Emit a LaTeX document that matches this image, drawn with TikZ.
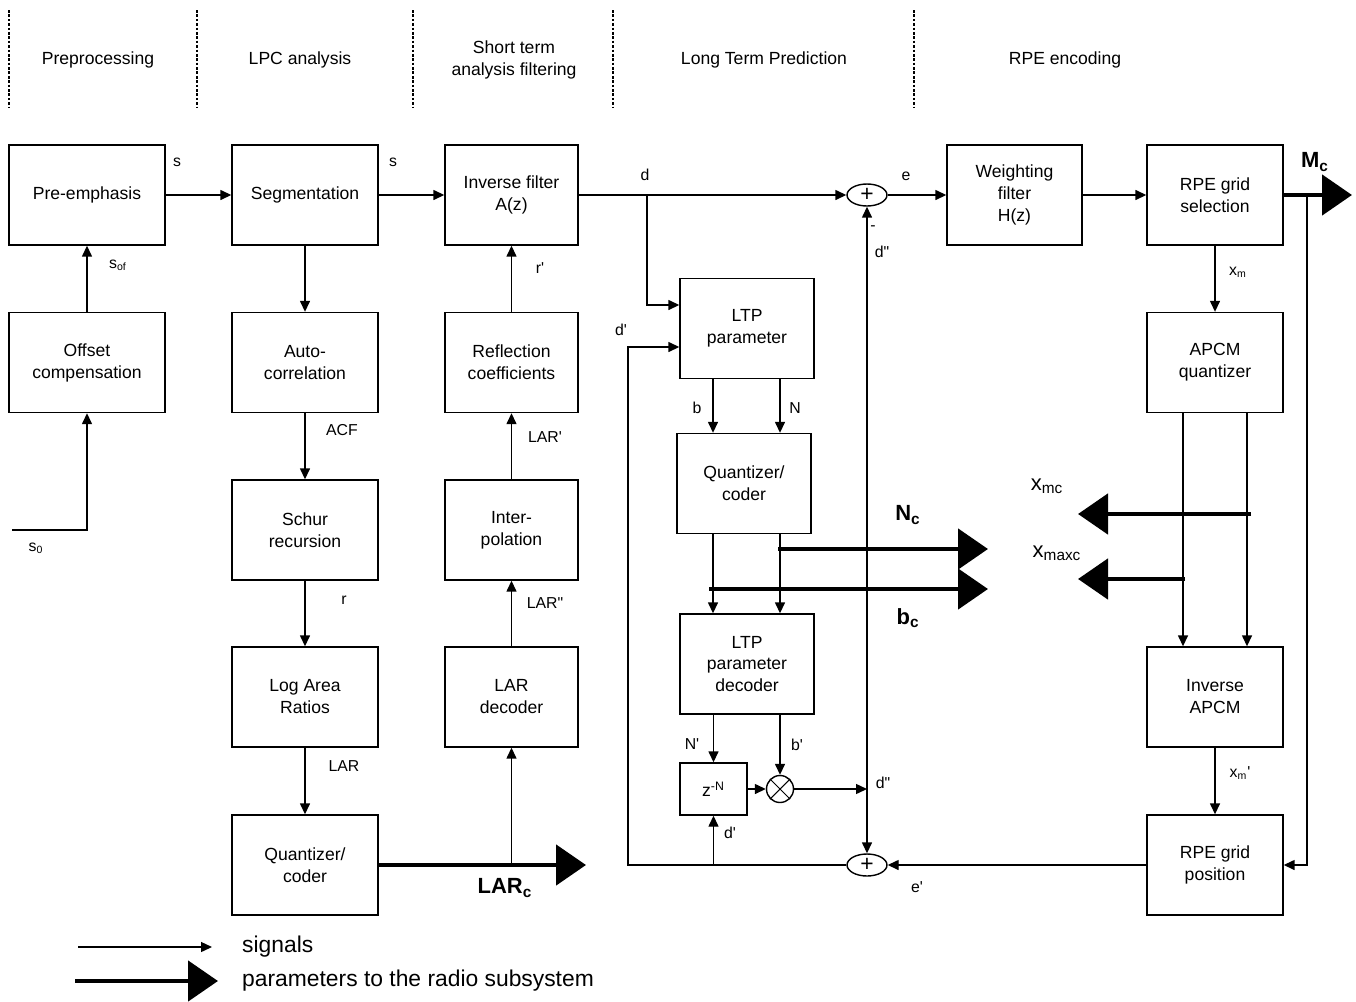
\documentclass[tikz,border=0pt]{standalone}
\usepackage{fontspec}
\setmainfont{Liberation Sans}
\usetikzlibrary{arrows.meta,positioning,calc,shapes.geometric}

\tikzset{
  block/.style={draw, rectangle, line width=0.8pt, minimum height=2cm, align=center,
    font=\fontsize{10}{12.5}\selectfont},
  sig/.style={line width=0.8pt, -{Triangle[length=0.22cm,width=0.2cm]}},
  param/.style={line width=2.8pt, -{Triangle[length=0.6cm,width=0.8cm]}},
  lbl/.style={font=\fontsize{9}{11}\selectfont, inner sep=1pt},
  big/.style={font=\fontsize{12.5}{14}\selectfont\bfseries, inner sep=1pt},
  head/.style={font=\fontsize{10}{13}\selectfont, align=center},
  summ/.style={draw, ellipse, line width=0.8pt, minimum width=0.8cm, minimum height=0.44cm, inner sep=0pt,
    font=\fontsize{13}{13}\selectfont}
}

\begin{document}
\begin{tikzpicture}[x=0.02cm, y=-0.02cm]
        \useasboundingbox (0,0) rectangle (1356,1001);

        % stage headers
        \foreach \x in {9,197,413,613,914}
            \draw[line width=0.8pt, dash pattern=on 1.5pt off 1pt] (\x,10) -- (\x,108);
        \node[head] (h1) at (98,60) {Preprocessing};
        \node[head] (h2) at (300,60) {LPC analysis};
        \node[head] (h3) at (514,60) {Short term\\analysis filtering};
        \node[head] (h4) at (764,60) {Long Term Prediction};
        \node[head] (h5) at (1065,60) {RPE encoding};

        % blocks
        \node[block, minimum width=3.12cm] (pre) at (87,195) {Pre-emphasis};
        \node[block, minimum width=3.12cm] (ofs) at (87,362.5) {Offset\\compensation};
        \node[block, minimum width=2.92cm] (seg) at (305,195) {Segmentation};
        \node[block, minimum width=2.92cm] (auto) at (305,362.5) {Auto-\\correlation};
        \node[block, minimum width=2.92cm] (schur) at (305,530) {Schur\\recursion};
        \node[block, minimum width=2.92cm] (lar) at (305,697) {Log Area\\Ratios};
        \node[block, minimum width=2.92cm] (lq) at (305,865) {Quantizer/\\coder};
        \node[block, minimum width=2.66cm] (inv) at (511.5,195) {Inverse filter\\A(z)};
        \node[block, minimum width=2.66cm] (refl) at (511.5,362.5) {Reflection\\coefficients};
        \node[block, minimum width=2.66cm] (intp) at (511.5,530) {Inter-\\polation};
        \node[block, minimum width=2.66cm] (ldec) at (511.5,697) {LAR\\decoder};
        \node[block, minimum width=2.68cm] (ltp) at (747,328.5) {LTP\\parameter};
        \node[block, minimum width=2.68cm] (ltq) at (744,483.5) {Quantizer/\\coder};
        \node[block, minimum width=2.68cm] (ltd) at (747,664) {LTP\\parameter\\decoder};
        \node[block, minimum width=1.34cm, minimum height=1.04cm] (zn) at (713.5,789) {z\textsuperscript{-N}};
        \node[draw, circle, line width=0.8pt, minimum size=0.54cm, inner sep=0pt] (mul) at (780,789) {};
        \draw[line width=0.6pt] (mul.north west) -- (mul.south east) (mul.north east) -- (mul.south west);
        \node[summ] (sumt) at (867,195) {+};
        \node[summ] (sumb) at (867,865) {+};
        \node[block, minimum width=2.7cm] (wf) at (1014.5,195) {Weighting\\filter\\H(z)};
        \node[block, minimum width=2.72cm] (rgs) at (1215,195) {RPE grid\\selection};
        \node[block, minimum width=2.72cm] (apcm) at (1215,362.5) {APCM\\quantizer};
        \node[block, minimum width=2.72cm] (iapcm) at (1215,697) {Inverse\\APCM};
        \node[block, minimum width=2.72cm] (rgp) at (1215,865) {RPE grid\\position};

        % helper points
        \coordinate (s0in) at (12,530);
        \coordinate (dtap) at (647,195);
        \coordinate (fbk) at (628,865);
        \coordinate (jd) at (867,789);
        \coordinate (bcol) at (713,0);
        \coordinate (ncol) at (780,0);
        \coordinate (mcol1) at (1183,0);
        \coordinate (mcol2) at (1247,0);
        \coordinate (mctap) at (1307,195);
        \coordinate (mcend) at (1352,195);
        \coordinate (larend) at (586,865);
        \coordinate (nctap) at (778,549);
        \coordinate (ncend) at (988,549);
        \coordinate (bctap) at (709,589);
        \coordinate (bcend) at (988,589);
        \coordinate (xmctap) at (1251,514);
        \coordinate (xmcend) at (1078,514);
        \coordinate (xmxtap) at (1185,579);
        \coordinate (xmxend) at (1078,579);

        % signal path
        \draw[sig] (s0in) -| (ofs.south);
        \draw[sig] (ofs) -- (pre);
        \draw[sig] (pre) -- (seg);
        \draw[sig] (seg) -- (inv);
        \draw[sig] (seg) -- (auto);
        \draw[sig] (auto) -- (schur);
        \draw[sig] (schur) -- (lar);
        \draw[sig] (lar) -- (lq);
        \draw[sig] (lq.east -| ldec) -- (ldec);
        \draw[sig] (ldec) -- (intp);
        \draw[sig] (intp) -- (refl);
        \draw[sig] (refl) -- (inv);
        \draw[sig] (inv) -- (sumt);
        \draw[sig] (dtap) |- ($(ltp.west)+(0,-23.5)$);
        \draw[sig] (sumb.west) -- (fbk) |- ($(ltp.west)+(0,18.5)$);
        \draw[sig] (sumb.west -| zn) -- (zn);
        \draw[sig] (ltp.south -| bcol) -- (ltq.north -| bcol);
        \draw[sig] (ltp.south -| ncol) -- (ltq.north -| ncol);
        \draw[sig] (ltq.south -| bcol) -- (ltd.north -| bcol);
        \draw[sig] (ltq.south -| ncol) -- (ltd.north -| ncol);
        \draw[sig] (ltd.south -| zn) -- (zn);
        \draw[sig] (ltd.south -| mul) -- (mul);
        \draw[sig] (zn) -- (mul);
        \draw[sig] (mul) -- (jd);
        \draw[sig] (jd) -- (sumt);
        \draw[sig] (jd) -- (sumb);
        \draw[sig] (sumt) -- (wf);
        \draw[sig] (wf) -- (rgs);
        \draw[sig] (rgs) -- (apcm);
        \draw[sig] (apcm.south -| mcol1) -- (iapcm.north -| mcol1);
        \draw[sig] (apcm.south -| mcol2) -- (iapcm.north -| mcol2);
        \draw[sig] (iapcm) -- (rgp);
        \draw[sig] (rgp) -- (sumb);
        \draw[sig] (mctap) |- (rgp.east);

        % parameters to the radio subsystem
        \draw[param] (rgs.east) -- (mcend);
        \draw[param] (lq.east) -- (larend);
        \draw[param] (nctap) -- (ncend);
        \draw[param] (bctap) -- (bcend);
        \draw[param] (xmctap) -- (xmcend);
        \draw[param] (xmxtap) -- (xmxend);

        % signal labels
        \node[lbl] (l1) at (177,162) {s};
        \node[lbl] (l2) at (393,162) {s};
        \node[lbl] (l3) at (118,265) {s\textsubscript{of}};
        \node[lbl] (l4) at (36,548) {s\textsubscript{0}};
        \node[lbl] (l5) at (342,430) {ACF};
        \node[lbl] (l6) at (344,600) {r};
        \node[lbl] (l7) at (344,766) {LAR};
        \node[lbl] (l8) at (540,268) {r\textquotesingle};
        \node[lbl] (l9) at (545,437) {LAR\textquotesingle};
        \node[lbl] (l10) at (545,603) {LAR\textquotedbl};
        \node[lbl] (l11) at (645,175) {d};
        \node[lbl] (l12) at (621,330) {d\textquotesingle};
        \node[lbl] (l13) at (697,408) {b};
        \node[lbl] (l14) at (795,408) {N};
        \node[lbl] (l15) at (692,744) {N\textquotesingle};
        \node[lbl] (l16) at (797,745) {b\textquotesingle};
        \node[lbl] (l17) at (883,783) {d\textquotedbl};
        \node[lbl] (l18) at (730,833) {d\textquotesingle};
        \node[lbl] (l19) at (917,887) {e\textquotesingle};
        \node[lbl] (l20) at (873,228) {-};
        \node[lbl] (l21) at (882,252) {d\textquotedbl};
        \node[lbl] (l22) at (906,176) {e};
        \node[lbl] (l23) at (1238,272) {x\textsubscript{m}};
        \node[lbl] (l24) at (1240,773) {x\textsubscript{m}\textquotesingle};
        \node[big] (lc1) at (505,888) {LAR\textsubscript{c}};
        \node[big] (lc2) at (908,515) {N\textsubscript{c}};
        \node[big] (lc3) at (908,618) {b\textsubscript{c}};
        \node[big] (lc4) at (1315,162) {M\textsubscript{c}};
        \node[big, font=\fontsize{12.5}{14}\selectfont] (lc5) at (1047,486) {x\textsubscript{mc}};
        \node[big, font=\fontsize{12.5}{14}\selectfont] (lc6) at (1057,553) {x\textsubscript{maxc}};

        % legend
        \coordinate (lg1a) at (78,947);
        \coordinate (lg1b) at (212,947);
        \coordinate (lg2a) at (75,981);
        \coordinate (lg2b) at (218,981);
        \draw[sig] (lg1a) -- (lg1b);
        \draw[param] (lg2a) -- (lg2b);
        \node[anchor=west, font=\fontsize{13}{15}\selectfont] (lgs) at (236,947) {signals};
        \node[anchor=west, font=\fontsize{13}{15}\selectfont] (lgp) at (236,981) {parameters to the radio subsystem};
\end{tikzpicture}
\end{document}
